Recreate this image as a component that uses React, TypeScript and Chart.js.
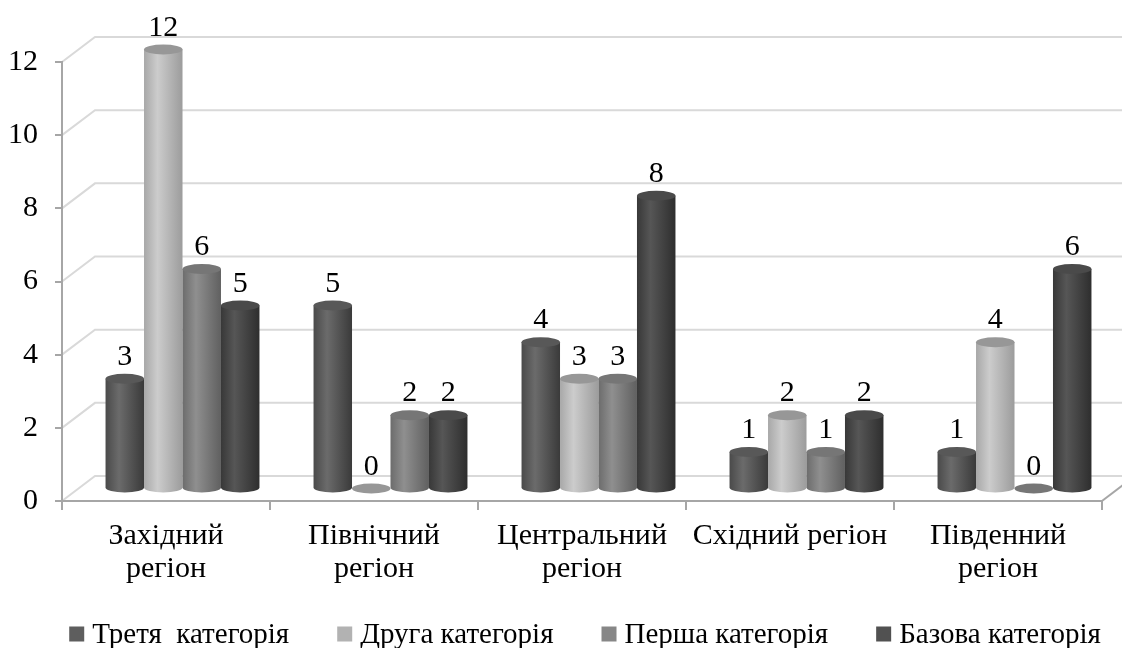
import React, { useEffect, useRef } from "react";
import { Chart, registerables } from "chart.js";

Chart.register(...registerables);

const categories: (string | string[])[] = [
  ["Західний", "регіон"],
  ["Північний", "регіон"],
  ["Центральний", "регіон"],
  "Східний регіон",
  ["Південний", "регіон"],
];
const seriesNames = ["Третя  категорія", "Друга категорія", "Перша категорія", "Базова категорія"];
const thirdValues = [3, 5, 4, 1, 1];
const secondValues = [12, 0, 3, 2, 4];
const firstValues = [6, 2, 3, 1, 0];
const baseValues = [5, 2, 8, 2, 6];
const yTicks = [0, 2, 4, 6, 8, 10, 12];

const legendColors = ["#5e5e5e", "#b2b2b2", "#878787", "#515151"];
const shades = [
  { left: "#4a4a4a", mid: "#6b6b6b", right: "#3a3a3a", top: "#585858" },
  { left: "#a8a8a8", mid: "#cccccc", right: "#9c9c9c", top: "#979797" },
  { left: "#6c6c6c", mid: "#8f8f8f", right: "#606060", top: "#767676" },
  { left: "#383838", mid: "#565656", right: "#2e2e2e", top: "#4a4a4a" },
];

const FONT = '"Liberation Serif"';
const DX = 33;
const DY = -25;
const RY = 5;

const threeD = {
  id: "threeD",
  beforeDraw(chart: any) {
    const { ctx, chartArea } = chart;
    const y = chart.scales.y;
    ctx.save();
    ctx.strokeStyle = "#d9d9d9";
    ctx.lineWidth = 2;
    for (const v of yTicks) {
      const py = y.getPixelForValue(v);
      ctx.beginPath();
      ctx.moveTo(chartArea.left, py);
      ctx.lineTo(chartArea.left + DX, py + DY);
      ctx.lineTo(chart.width, py + DY);
      ctx.stroke();
    }
    ctx.strokeStyle = "#a6a6a6";
    ctx.beginPath();
    ctx.moveTo(chartArea.right, chartArea.bottom);
    ctx.lineTo(chartArea.right + DX, chartArea.bottom + DY);
    ctx.stroke();
    ctx.restore();
  },
  beforeDatasetDraw() {
    return false;
  },
  afterDatasetsDraw(chart: any) {
    const { ctx } = chart;
    ctx.save();
    ctx.translate(DX / 2, DY / 2);
    const labels: { x: number; y: number; t: string }[] = [];
    chart.data.datasets.forEach((ds: any, di: number) => {
      const meta = chart.getDatasetMeta(di);
      const sh = shades[di];
      meta.data.forEach((el: any, i: number) => {
        const { x, y, base, width } = el.getProps(["x", "y", "base", "width"], true);
        const l = x - width / 2;
        const r = x + width / 2;
        const rx = width / 2;
        const grad = ctx.createLinearGradient(l, 0, r, 0);
        grad.addColorStop(0, sh.left);
        grad.addColorStop(0.35, sh.mid);
        grad.addColorStop(1, sh.right);
        if (base - y > 0.5) {
          ctx.fillStyle = grad;
          ctx.beginPath();
          ctx.moveTo(l, y);
          ctx.lineTo(l, base);
          ctx.ellipse(x, base, rx, RY, 0, Math.PI, 0, true);
          ctx.lineTo(r, y);
          ctx.closePath();
          ctx.fill();
        }
        ctx.fillStyle = sh.top;
        ctx.beginPath();
        ctx.ellipse(x, y, rx, RY, 0, 0, Math.PI * 2);
        ctx.fill();
        labels.push({ x, y: y - RY - 9, t: String(ds.data[i]) });
      });
    });
    ctx.fillStyle = "#000";
    ctx.font = `30px ${FONT}`;
    ctx.textAlign = "center";
    ctx.textBaseline = "alphabetic";
    for (const lb of labels) ctx.fillText(lb.t, lb.x, lb.y);
    ctx.restore();
  },
  afterDraw(chart: any) {
    const { ctx } = chart;
    ctx.save();
    ctx.font = `29px ${FONT}`;
    ctx.textBaseline = "middle";
    ctx.textAlign = "left";
    const box = 15;
    const gapBox = 8;
    const gap = 48;
    const widths = seriesNames.map((n) => ctx.measureText(n).width);
    const total = widths.reduce((a, w) => a + box + gapBox + w, 0) + gap * (seriesNames.length - 1);
    let x = 585 - total / 2;
    const yc = 634;
    seriesNames.forEach((n, i) => {
      ctx.fillStyle = legendColors[i];
      ctx.fillRect(x, yc - box / 2, box, box);
      ctx.fillStyle = "#000";
      ctx.fillText(n, x + box + gapBox, yc + 1);
      x += box + gapBox + widths[i] + gap;
    });
    ctx.restore();
  },
};

export default function App() {
  const ref = useRef<HTMLCanvasElement | null>(null);
  useEffect(() => {
    document.body.style.margin = "0";
    if (!ref.current) return;
    const chart = new Chart(ref.current, {
      type: "bar",
      data: {
        labels: categories,
        datasets: [
          { label: seriesNames[0], data: thirdValues, backgroundColor: legendColors[0] },
          { label: seriesNames[1], data: secondValues, backgroundColor: legendColors[1] },
          { label: seriesNames[2], data: firstValues, backgroundColor: legendColors[2] },
          { label: seriesNames[3], data: baseValues, backgroundColor: legendColors[3] },
        ],
      },
      options: {
        responsive: false,
        animation: false,
        devicePixelRatio: 1,
        font: { family: FONT },
        layout: { padding: { top: 62, right: 20, bottom: 0, left: 0 } },
        datasets: { bar: { categoryPercentage: 0.74, barPercentage: 1 } },
        plugins: { legend: { display: false }, tooltip: { enabled: false } },
        scales: {
          x: {
            grid: { display: true, drawOnChartArea: false, drawTicks: true, tickLength: 9, color: "#a6a6a6", lineWidth: 2 },
            border: { display: true, color: "#a6a6a6", width: 2 },
            ticks: { color: "#000", font: { family: FONT, size: 30, lineHeight: 1.1 }, padding: 10, maxRotation: 0, autoSkip: false },
            afterFit: (s: any) => {
              s.height = 147;
            },
          },
          y: {
            min: 0,
            max: 12,
            grid: { display: true, drawOnChartArea: false, drawTicks: true, tickLength: 7, color: "#a6a6a6", lineWidth: 2 },
            border: { display: true, color: "#a6a6a6", width: 2 },
            ticks: { stepSize: 2, color: "#000", font: { family: FONT, size: 30 }, padding: 17 },
            afterFit: (s: any) => {
              s.width = 62;
            },
          },
        },
      },
      plugins: [threeD],
    } as any);
    return () => chart.destroy();
  }, []);
  return (
    <div style={{ position: "fixed", left: 0, top: 0, width: 1122, height: 648, background: "#fff" }}>
      <canvas ref={ref} width={1122} height={648} style={{ display: "block" }} />
    </div>
  );
}
